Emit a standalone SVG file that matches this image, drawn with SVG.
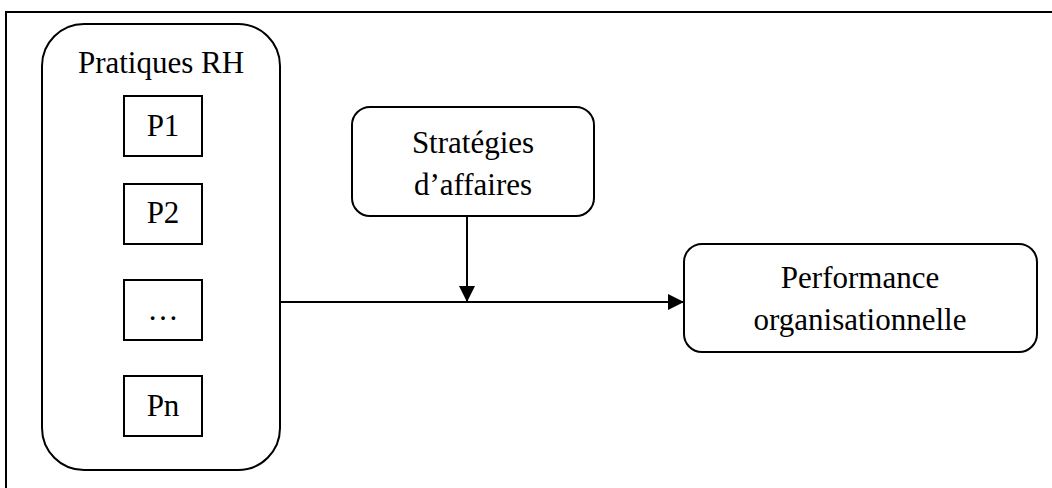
<svg xmlns="http://www.w3.org/2000/svg" width="1052" height="488" viewBox="0 0 1052 488">
<style>
.ln{fill:none;stroke:#000;stroke-width:2}
.bx{fill:#fff;stroke:#000;stroke-width:2}
.t{font-family:'Liberation Serif','Tinos','Times New Roman','DejaVu Serif',serif;font-size:31px;fill:#000;text-anchor:middle}
</style>
<defs>
<marker id="ah" viewBox="0 0 16 16" refX="16" refY="8" markerWidth="16" markerHeight="16" markerUnits="userSpaceOnUse" orient="auto">
<path d="M0,0 L16,8 L0,16 Z" fill="#000"/>
</marker>
</defs>
<rect width="1052" height="488" fill="#fff"/>
<path class="ln" d="M6,489 L6,12 L1053,12"/>
<g id="pratiques">
<rect class="bx" x="42" y="24" width="238" height="446" rx="42" ry="42"/>
<text class="t" x="161" y="73">Pratiques RH</text>
</g>
<g id="p1">
<rect class="bx" x="124" y="96" width="78" height="60"/>
<text class="t" x="163" y="136">P1</text>
</g>
<g id="p2">
<rect class="bx" x="124" y="184" width="78" height="60"/>
<text class="t" x="163" y="223">P2</text>
</g>
<g id="pdots">
<rect class="bx" x="124" y="280" width="78" height="60"/>
<text class="t" x="163" y="320">…</text>
</g>
<g id="pn">
<rect class="bx" x="124" y="376" width="78" height="60"/>
<text class="t" x="163" y="416">Pn</text>
</g>
<g id="strategies">
<rect class="bx" x="352" y="107" width="242" height="109" rx="18" ry="18"/>
<text class="t" x="473" y="153">Stratégies</text>
<text class="t" x="473" y="195">d’affaires</text>
</g>
<g id="performance">
<rect class="bx" x="684" y="244" width="353" height="108" rx="18" ry="18"/>
<text class="t" x="860" y="288">Performance</text>
<text class="t" x="860" y="330">organisationnelle</text>
</g>
<g id="connectors">
<line class="ln" x1="280" y1="302" x2="684" y2="302" marker-end="url(#ah)"/>
<line class="ln" x1="467" y1="216" x2="467" y2="302" marker-end="url(#ah)"/>
</g>
</svg>
